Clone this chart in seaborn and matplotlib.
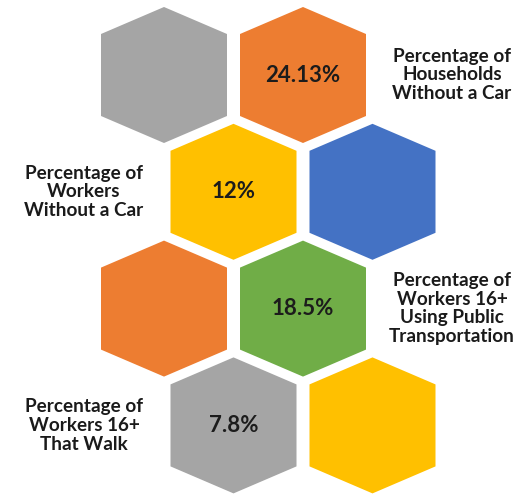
import numpy as np
import pandas as pd
import matplotlib
matplotlib.use("Agg")
import matplotlib.pyplot as plt
from matplotlib.path import Path
import seaborn as sns

# ---- data ----
hex_rows = [0, 0, 1, 1, 2, 2, 3, 3]
hex_cols = [0, 1, 0, 1, 0, 1, 0, 1]
hex_fills = ["#A5A5A5", "#ED7D31", "#FFC000", "#4472C4",
             "#ED7D31", "#70AD47", "#A5A5A5", "#FFC000"]
hex_values = ["", "24.13%", "12%", "", "", "18.5%", "7.8%", ""]

label_texts = [
    "Percentage of\nHouseholds\nWithout a Car",
    "Percentage of\nWorkers\nWithout a Car",
    "Percentage of\nWorkers 16+\nUsing Public\nTransportation",
    "Percentage of\nWorkers 16+\nThat Walk",
]
label_rows = [0, 1, 2, 3]
label_sides = ["right", "left", "right", "left"]

# ---- layout ----
W, H, DPI = 526, 494, 100
X0, Y0 = 164, 75          # centre of first hexagon (px)
DX, DY = 139, 116.8       # column / row spacing (px)
HALF_W, HALF_H, SHOULDER = 63, 68, 41

df = pd.DataFrame({"row": hex_rows, "col": hex_cols,
                   "fill": hex_fills, "value": hex_values})
df["cx"] = X0 + df["col"] * DX + (df["row"] % 2) * DX / 2
df["cy"] = Y0 + df["row"] * DY
df["id"] = np.arange(len(df)).astype(str)

sns.set_theme(style="white")
plt.rcParams["font.family"] = ["Lato", "DejaVu Sans"]

fig = plt.figure(figsize=(W / DPI, H / DPI), dpi=DPI)
ax = fig.add_axes([0, 0, 1, 1])

verts = np.array([[0, HALF_H], [HALF_W, SHOULDER], [HALF_W, -SHOULDER],
                  [0, -HALF_H], [-HALF_W, -SHOULDER], [-HALF_W, SHOULDER],
                  [0, HALF_H]], dtype=float)
codes = [Path.MOVETO] + [Path.LINETO] * 5 + [Path.CLOSEPOLY]
hex_marker = Path(verts, codes)
size_pt = 2 * HALF_H * 72 / DPI

sns.scatterplot(data=df, x="cx", y="cy", hue="id",
                palette=dict(zip(df["id"], df["fill"])),
                marker=hex_marker, s=size_pt ** 2, linewidth=0,
                legend=False, ax=ax, zorder=2)
ax.set_xlim(0, W)
ax.set_ylim(H, 0)
ax.axis("off")

for _, r in df.iterrows():
    if r["value"]:
        ax.text(r["cx"], r["cy"], r["value"], ha="center", va="center",
                fontsize=16, fontweight="bold", color="#1c1c1c", zorder=3)

for txt, row, side in zip(label_texts, label_rows, label_sides):
    cy = Y0 + row * DY
    cx = 452 if side == "right" else 84
    ax.text(cx, cy, txt, ha="center", va="center", fontsize=13.6,
            fontweight="bold", color="#1a1a1a", linespacing=1.12, zorder=3)

fig.savefig("out.png", dpi=DPI)
